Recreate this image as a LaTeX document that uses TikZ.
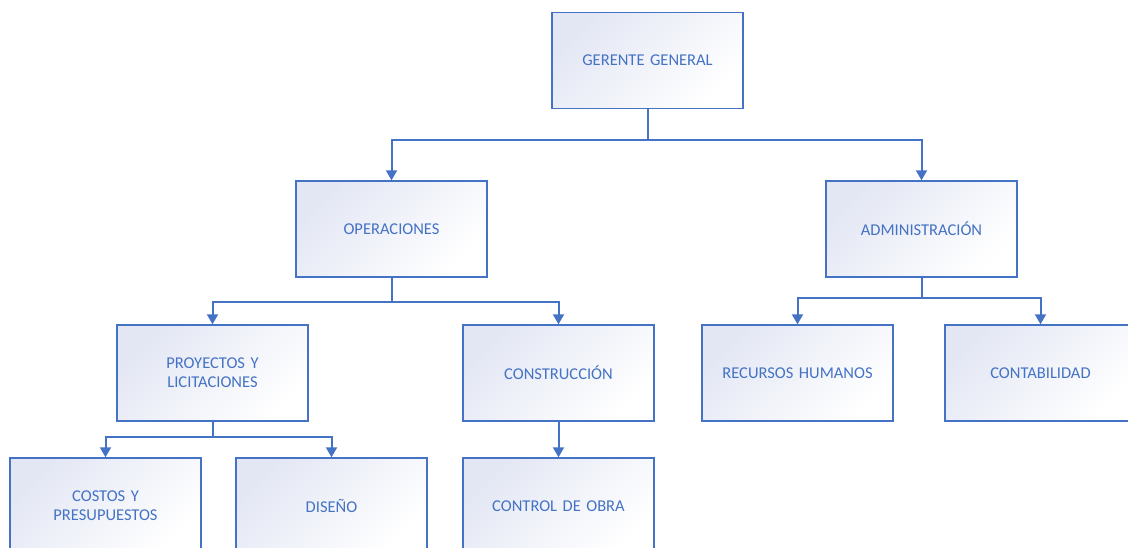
\documentclass[tikz,border=0pt]{standalone}
\usepackage{fontspec}
\setmainfont{Carlito}
\usetikzlibrary{arrows.meta}
\definecolor{orgblue}{HTML}{4472C4}
\definecolor{orgfill}{HTML}{E3E7F4}
\begin{document}
\begin{tikzpicture}[x=1pt,y=-1pt,
    unit/.style={draw=orgblue, line width=1.4pt, top color=orgfill, bottom color=white,
      shading angle=45, minimum width=191pt, minimum height=96pt, inner sep=0pt,
      text=orgblue, text width=170pt, align=center,
      font=\fontsize{16.5}{19}\selectfont},
    link/.style={draw=orgblue, line width=2pt},
    arr/.style={link, -{Triangle[width=11pt,length=10pt]}}]
        \useasboundingbox (0,0) rectangle (1128,548);

        \node[unit] (ger) at (647.5,60.5) {GERENTE GENERAL};
        \node[unit] (ope) at (391.5,229) {OPERACIONES};
        \node[unit] (adm) at (921.5,229) {ADMINISTRACIÓN};
        \node[unit] (pro) at (212.5,373) {PROYECTOS Y\\LICITACIONES};
        \node[unit] (con) at (558.5,373) {CONSTRUCCIÓN};
        \node[unit] (rrh) at (797.5,373) {RECURSOS HUMANOS};
        \node[unit] (cnt) at (1040.5,373) {CONTABILIDAD};
        \node[unit] (cyp) at (105.5,506) {COSTOS Y\\PRESUPUESTOS};
        \node[unit] (dis) at (331.5,506) {DISEÑO};
        \node[unit] (cob) at (558.5,506) {CONTROL DE OBRA};

        % junctions
        \coordinate (j1) at (647.5,140);
        \coordinate (j2) at (391.5,302);
        \coordinate (j3) at (921.5,298);
        \coordinate (j4) at (212.5,437);

        \draw[link] (ger) -- (j1);
        \draw[arr] (j1) -| (ope);
        \draw[arr] (j1) -| (adm);

        \draw[link] (ope) -- (j2);
        \draw[arr] (j2) -| (pro);
        \draw[arr] (j2) -| (con);

        \draw[link] (adm) -- (j3);
        \draw[arr] (j3) -| (rrh);
        \draw[arr] (j3) -| (cnt);

        \draw[link] (pro) -- (j4);
        \draw[arr] (j4) -| (cyp);
        \draw[arr] (j4) -| (dis);

        \draw[arr] (con) -- (cob);
    \end{tikzpicture}
\end{document}
